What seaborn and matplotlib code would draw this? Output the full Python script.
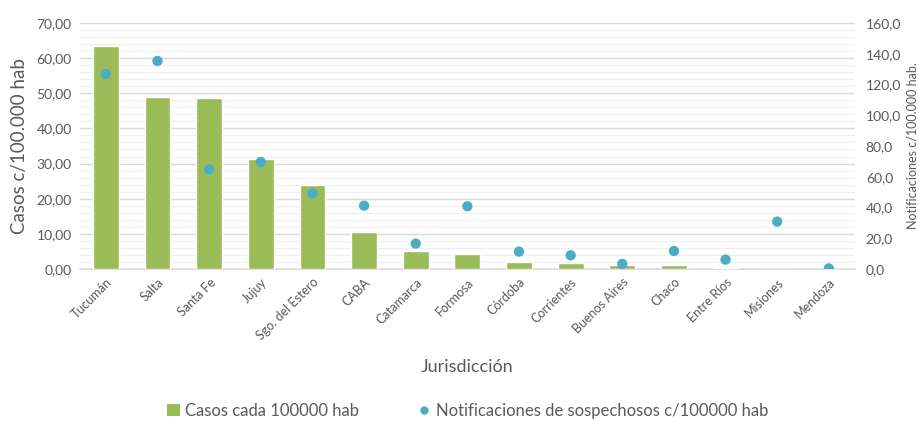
import numpy as np
import pandas as pd
import matplotlib
matplotlib.use("Agg")
import matplotlib.pyplot as plt
from matplotlib.patches import Patch
from matplotlib.lines import Line2D
from matplotlib.ticker import MultipleLocator, FuncFormatter
import seaborn as sns

# Jurisdicciones y tasas por 100.000 habitantes
jurisdicciones = [
    "Tucumán", "Salta", "Santa Fe", "Jujuy", "Sgo. del Estero", "CABA",
    "Catamarca", "Formosa", "Córdoba", "Corrientes", "Buenos Aires",
    "Chaco", "Entre Ríos", "Misiones", "Mendoza",
]
casos = [63.5, 49.0, 48.7, 31.4, 24.0, 10.6, 5.2, 4.2, 2.0, 1.6, 1.2, 1.1, 0.4, 0.0, 0.0]
notificaciones = [126.8, 135.3, 64.8, 69.6, 49.2, 41.2, 16.5, 40.8, 11.3, 8.9, 3.3, 11.7, 6.1, 30.8, 0.4]

serie_casos = "Casos cada 100000 hab"
serie_notif = "Notificaciones de sospechosos c/100000 hab"

df = pd.DataFrame({
    "Jurisdicción": jurisdicciones,
    "casos": casos,
    "notif": notificaciones,
})
df["pos"] = np.arange(len(df))

VERDE = "#9BBB59"
CELESTE = "#4BACC6"
TEXTO = "#595959"

sns.set_theme(style="white")
plt.rcParams["font.family"] = ["Lato", "DejaVu Sans"]

fig = plt.figure(figsize=(9.2, 4.22), dpi=100)
ax = fig.add_axes([0.087, 0.3626, 0.842, 0.583])

sns.barplot(data=df, x="Jurisdicción", y="casos", color=VERDE, width=0.5,
            saturation=1, ax=ax, zorder=3)
ax.set_xlim(-0.5, len(df) - 0.5)
ax.set_ylim(0, 70)
ax.yaxis.set_major_locator(MultipleLocator(10))
ax.yaxis.set_minor_locator(MultipleLocator(2))
ax.yaxis.set_major_formatter(FuncFormatter(lambda v, _: f"{v:.2f}".replace(".", ",")))
ax.grid(axis="y", which="major", color="#D9D9D9", linewidth=1.0, zorder=0)
ax.grid(axis="y", which="minor", color="#EDEDED", linewidth=0.8, zorder=0)
ax.set_axisbelow(True)
for s in ["top", "right", "left"]:
    ax.spines[s].set_visible(False)
ax.spines["bottom"].set_color("#D9D9D9")
ax.spines["bottom"].set_linewidth(1.2)
ax.tick_params(axis="both", which="both", length=0, colors=TEXTO)
ax.tick_params(axis="y", labelsize=10, pad=6)
ax.tick_params(axis="x", labelsize=9, pad=5)
plt.setp(ax.get_xticklabels(), rotation=45, ha="right", rotation_mode="anchor")
ax.set_ylabel("Casos c/100.000 hab", fontsize=13.5, color=TEXTO, labelpad=6)
ax.set_xlabel("Jurisdicción", fontsize=13, color=TEXTO, labelpad=12)

ax2 = ax.twinx()
sns.scatterplot(data=df, x="pos", y="notif", color=CELESTE, s=55,
                edgecolor="none", ax=ax2, zorder=4, legend=False)
ax2.set_xlim(-0.5, len(df) - 0.5)
ax2.set_ylim(0, 160)
ax2.yaxis.set_major_locator(MultipleLocator(20))
ax2.yaxis.set_major_formatter(FuncFormatter(lambda v, _: f"{v:.1f}".replace(".", ",")))
ax2.tick_params(axis="y", length=0, colors=TEXTO, labelsize=10, pad=8)
for s in ax2.spines.values():
    s.set_visible(False)
ax2.set_ylabel("Notificaciones c/100.000 hab.", fontsize=9, color=TEXTO, labelpad=4)
ax2.grid(False)

handles = [
    Patch(facecolor=VERDE, edgecolor="none", label=serie_casos),
    Line2D([], [], marker="o", linestyle="none", markerfacecolor=CELESTE,
           markeredgecolor="none", markersize=6, label=serie_notif),
]
fig.legend(handles=handles, loc="center", bbox_to_anchor=(0.508, 0.026),
           ncol=2, frameon=False, fontsize=12, labelcolor=TEXTO,
           handlelength=0.8, handletextpad=0.3, columnspacing=3.5)

fig.savefig("out.png", dpi=100)
